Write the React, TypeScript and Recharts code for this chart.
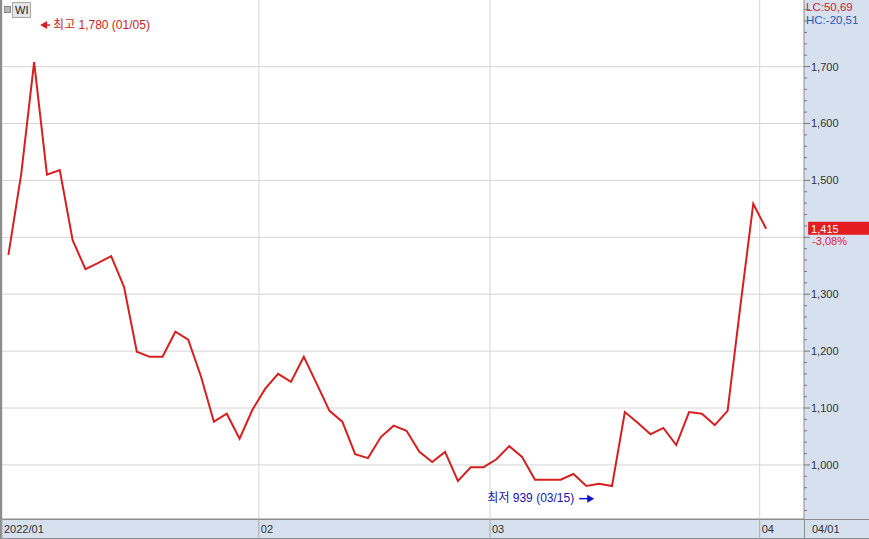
import { LineChart, Line, XAxis, YAxis, CartesianGrid, ReferenceDot, Customized } from 'recharts';

// daily closes, 2022/01/03 .. 2022/04/01
const closes = [
  1369, 1512, 1708, 1510, 1518, 1395, 1344, 1355, 1367, 1313,
  1199, 1190, 1190, 1234, 1220, 1155, 1076, 1090, 1046, 1097,
  1134, 1160, 1146, 1190, 1143, 1095, 1076, 1019, 1012, 1049,
  1069, 1060, 1023, 1005, 1023, 972, 996, 996, 1010, 1033,
  1014, 974, 974, 974, 984, 963, 967, 963, 1093, 1074,
  1054, 1065, 1035, 1093, 1090, 1070, 1095, 1280, 1459, 1415,
];

const monthStarts = [0, 20, 38, 59];
const monthLabels = ['2022/01', '02', '03', '04'];
const lastDate = '04/01';

const priceTicks = [1000, 1100, 1200, 1300, 1400, 1500, 1600, 1700];
const minorTicks = [
  920, 940, 960, 980, 1000, 1020, 1040, 1060, 1080, 1100, 1120, 1140, 1160, 1180,
  1200, 1220, 1240, 1260, 1280, 1300, 1320, 1340, 1360, 1380, 1400, 1420, 1440,
  1460, 1480, 1500, 1520, 1540, 1560, 1580, 1600, 1620, 1640, 1660, 1680, 1700,
  1720, 1740, 1760, 1780, 1800,
];

const high = { index: 2, value: 1780, label: '최고 1,780 (01/05)' };
const low = { index: 46, value: 939, label: '최저 939 (03/15)' };
const last = { index: 59, value: 1415, change: '-3,08%' };
const lcText = 'LC:50,69';
const hcText = 'HC:-20,51';

const data = closes.map((v, i) => ({ i, v }));

const FONT = "'Liberation Sans', 'Noto Sans CJK KR', sans-serif";
const PANEL = '#d6e0ee';
const BORDER = '#8c8c8c';

function PriceTick(props: any) {
  const { y, payload } = props;
  const v = payload.value;
  const major = v % 100 === 0;
  // labels hidden where the current-price marker sits
  const showLabel = priceTicks.includes(v) && Math.abs(v - last.value) > 40;
  const ax = 804;
  return (
    <g>
      <line x1={ax} x2={ax + (major ? 6 : 3)} y1={y} y2={y} stroke="#777" />
      {showLabel && (
        <text x={ax + 7} y={y + 4} fontSize={11} fontFamily={FONT} fill="#333">
          {v.toLocaleString('en-US')}
        </text>
      )}
    </g>
  );
}

function MonthTick(props: any) {
  const { x, index } = props;
  return (
    <g>
      <line x1={x} x2={x} y1={519} y2={539} stroke="#aaa" />
      <text x={x + 2} y={533} fontSize={11} fontFamily={FONT} fill="#333">
        {monthLabels[index]}
      </text>
    </g>
  );
}

function HighLabel(props: any) {
  const { x, y } = props.viewBox;
  const ay = y + 4;
  return (
    <g>
      <polygon points={`${x + 6},${ay} ${x + 13},${ay - 4} ${x + 13},${ay + 4}`} fill="#d42020" />
      <line x1={x + 12} x2={x + 16} y1={ay} y2={ay} stroke="#d42020" strokeWidth={1.5} />
      <text x={x + 19} y={y + 8} fontSize={12} fontFamily={FONT} fill="#c81e1e">
        {high.label}
      </text>
    </g>
  );
}

function LowLabel(props: any) {
  const { x, y } = props.viewBox;
  const ay = y - 1;
  return (
    <g>
      <line x1={x - 20} x2={x - 11} y1={ay} y2={ay} stroke="#1010d0" strokeWidth={1.5} />
      <polygon points={`${x - 5},${ay} ${x - 12},${ay - 4} ${x - 12},${ay + 4}`} fill="#1010d0" />
      <text x={x - 25} y={y + 2} textAnchor="end" fontSize={12} fontFamily={FONT} fill="#1414b4">
        {low.label}
      </text>
    </g>
  );
}

function LastLabel(props: any) {
  const { x, y } = props.viewBox;
  return (
    <g>
      <rect x={x + 42} y={y - 7} width={61} height={13} fill="#e41e1e" />
      <text x={x + 45} y={y + 4} fontSize={11} fontFamily={FONT} fill="#fff">
        {last.value.toLocaleString('en-US')}
      </text>
      <text x={x + 46} y={y + 16} fontSize={11} fontFamily={FONT} fill="#e02030">
        {last.change}
      </text>
    </g>
  );
}

function Frame() {
  return (
    <g>
      <rect x={0} y={0} width={2} height={539} fill={BORDER} />
      <line x1={0} x2={869} y1={519.5} y2={519.5} stroke={BORDER} />
      <line x1={0} x2={869} y1={538.5} y2={538.5} stroke={BORDER} />
      <line x1={804.5} x2={804.5} y1={519} y2={539} stroke={BORDER} />
      <text x={812} y={533} fontSize={11} fontFamily={FONT} fill="#333">{lastDate}</text>
      <text x={806} y={11} fontSize={11.5} fontFamily={FONT} fill="#d8202a">{lcText}</text>
      <text x={806} y={24} fontSize={11.5} fontFamily={FONT} fill="#2858b8">{hcText}</text>
      <rect x={4.5} y={6.5} width={6} height={6} fill="#b8b8b8" stroke="#888" />
      <rect x={12.5} y={2.5} width={18} height={15} fill="#e6e6e6" stroke="#a8a8a8" />
      <text x={15} y={14} fontSize={11} fontFamily={FONT} fill="#222">WI</text>
    </g>
  );
}

export default function App() {
  return (
    <div style={{ position: 'absolute', left: 0, top: 0, width: 869, height: 539, background: PANEL }}>
      <LineChart width={869} height={539} data={data} margin={{ top: 0, right: 0, bottom: 0, left: 2 }}>
        <CartesianGrid
          fill="#fff"
          stroke="#d4d4d4"
          horizontalValues={priceTicks}
          verticalValues={monthStarts.map((m) => m - 0.5)}
        />
        <XAxis
          type="number"
          dataKey="i"
          domain={[-0.5, 61.95]}
          ticks={monthStarts.map((m) => m - 0.5)}
          interval={0}
          height={20}
          allowDataOverflow
          axisLine={{ stroke: BORDER }}
          tickLine={false}
          tick={<MonthTick />}
        />
        <YAxis
          orientation="right"
          domain={[905, 1817]}
          ticks={minorTicks}
          interval={0}
          width={65}
          allowDataOverflow
          axisLine={{ stroke: BORDER }}
          tickLine={false}
          tick={<PriceTick />}
        />
        <Line
          type="linear"
          dataKey="v"
          stroke="#d42020"
          strokeWidth={2}
          dot={false}
          isAnimationActive={false}
        />
        <ReferenceDot x={high.index} y={high.value} r={0} ifOverflow="visible" label={HighLabel} />
        <ReferenceDot x={low.index} y={low.value} r={0} ifOverflow="visible" label={LowLabel} />
        <ReferenceDot x={last.index} y={last.value} r={0} ifOverflow="visible" label={LastLabel} />
        <Customized component={Frame} />
      </LineChart>
    </div>
  );
}
